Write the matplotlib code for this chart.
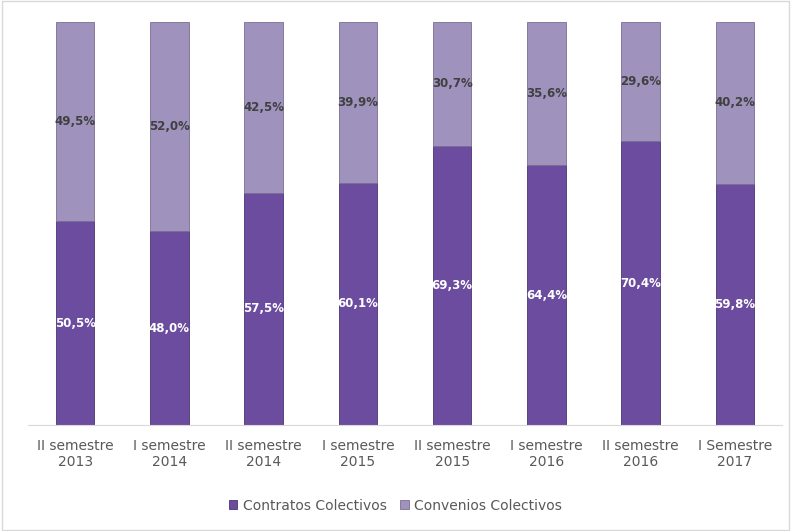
import matplotlib
matplotlib.use("Agg")
import matplotlib.pyplot as plt
from matplotlib.patches import Rectangle

categories = ["II semestre\n2013", "I semestre\n2014", "II semestre\n2014", "I semestre\n2015",
              "II semestre\n2015", "I semestre\n2016", "II semestre\n2016", "I Semestre\n2017"]
contratos = [50.5, 48.0, 57.5, 60.1, 69.3, 64.4, 70.4, 59.8]
convenios = [49.5, 52.0, 42.5, 39.9, 30.7, 35.6, 29.6, 40.2]
series_names = ["Contratos Colectivos", "Convenios Colectivos"]

c_contr = "#6b4c9e"
c_conv = "#9f92bd"

fig = plt.figure(figsize=(7.91, 5.31), dpi=100)
ax = fig.add_axes([28 / 791, 0.2, 754 / 791, 0.7586])
x = list(range(len(categories)))
w = 0.41
b1 = ax.bar(x, contratos, width=w, color=c_contr, edgecolor="#4a3570", linewidth=0.6,
            label=series_names[0])
b2 = ax.bar(x, convenios, width=w, bottom=contratos, color=c_conv, edgecolor="#7a6c94",
            linewidth=0.6, label=series_names[1])

for i in x:
    ax.text(i, contratos[i] / 2, f"{contratos[i]:.1f}%".replace(".", ","), ha="center", va="center",
            color="white", fontsize=8.5, fontweight="bold")
    ax.text(i, contratos[i] + convenios[i] / 2, f"{convenios[i]:.1f}%".replace(".", ","),
            ha="center", va="center", color="#404040", fontsize=8.5, fontweight="bold")

ax.set_xlim(-0.5, len(categories) - 0.5)
ax.set_ylim(0, 100)
ax.set_yticks([])
ax.set_xticks(x)
ax.set_xticklabels(categories, fontsize=10, color="#595959")
ax.tick_params(axis="x", length=0, pad=10)
for s in ["top", "right", "left"]:
    ax.spines[s].set_visible(False)
ax.spines["bottom"].set_color("#d9d9d9")

leg = fig.legend(handles=[b1, b2], labels=series_names, loc="center", bbox_to_anchor=(0.5, 0.048),
                 ncol=2, frameon=False, fontsize=10, handlelength=0.6, handleheight=0.6,
                 handletextpad=0.4, columnspacing=1.0)
for t in leg.get_texts():
    t.set_color("#595959")

fig.patches.append(Rectangle((0.002, 0.002), 0.996, 0.996, transform=fig.transFigure,
                             fill=False, edgecolor="#d9d9d9", linewidth=1))
fig.savefig("out.png", dpi=100)
